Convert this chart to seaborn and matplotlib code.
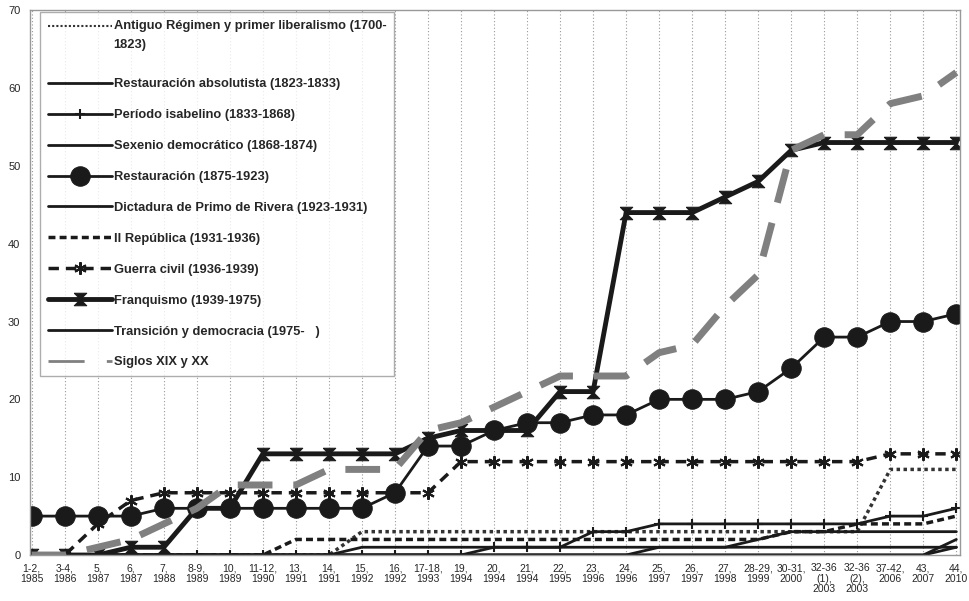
import numpy as np
import matplotlib
matplotlib.use("Agg")
import matplotlib.pyplot as plt
import seaborn as sns

sns.set_theme(style="white")
plt.rcParams['font.family'] = ['Liberation Sans', 'DejaVu Sans']

## categories (number, year)
categories = ["1-2,\n1985", "3-4,\n1986", "5,\n1987", "6,\n1987", "7,\n1988",
              "8-9,\n1989", "10,\n1989", "11-12,\n1990", "13,\n1991", "14,\n1991",
              "15,\n1992", "16,\n1992", "17-18,\n1993", "19,\n1994", "20,\n1994",
              "21,\n1994", "22,\n1995", "23,\n1996", "24,\n1996", "25,\n1997",
              "26,\n1997", "27,\n1998", "28-29,\n1999", "30-31,\n2000",
              "32-36\n(1),\n2003", "32-36\n(2),\n2003", "37-42,\n2006",
              "43,\n2007", "44,\n2010"]

## series values (cumulative counts)
antiguo_regimen = [0]*10 + [3]*16 + [11]*3
rest_absolutista = [0]*28 + [2]
periodo_isabelino = [0]*14 + [1]*3 + [3]*2 + [4]*7 + [5, 5, 6]
sexenio = [0]*10 + [1]*19
restauracion = [5, 5, 5, 5, 6, 6, 6, 6, 6, 6, 6, 8, 14, 14, 16, 17, 17, 18, 18,
                20, 20, 20, 21, 24, 28, 28, 30, 30, 31]
dictadura = [0]*19 + [1, 1, 1, 2] + [3]*6
ii_republica = [0]*8 + [2]*15 + [3]*2 + [4]*3 + [5]
guerra_civil = [0, 0, 4, 7] + [8]*9 + [12]*13 + [13]*3
franquismo = [0, 0, 0, 1, 1, 6, 6, 13, 13, 13, 13, 13, 15, 16, 16, 16, 21, 21,
              44, 44, 44, 46, 48, 52, 53, 53, 53, 53, 53]
transicion = [0]*28 + [1]
siglos_xix_xx = [0, 0, 1, 2, 4, 6, 9, 9, 9, 11, 11, 11, 16, 17, 19, 21, 23, 23,
                 23, 26, 27, 32, 36, 52, 54, 54, 58, 59, 62]

labels = ["Antiguo Régimen y primer liberalismo (1700-\n1823)",
          "Restauración absolutista (1823-1833)",
          "Período isabelino (1833-1868)",
          "Sexenio democrático (1868-1874)",
          "Restauración (1875-1923)",
          "Dictadura de Primo de Rivera (1923-1931)",
          "II República (1931-1936)",
          "Guerra civil (1936-1939)",
          "Franquismo (1939-1975)",
          "Transición y democracia (1975-   )",
          "Siglos XIX y XX"]

hourglass = [(-1, 1), (1, 1), (-1, -1), (1, -1), (-1, 1)]
k = "#1a1a1a"

styles = [
    dict(color="#333333", linestyle=(0, (1, 1)), linewidth=2.5),
    dict(color=k, linestyle="-", linewidth=2),
    dict(color=k, linestyle="-", linewidth=2, marker="+", markersize=7,
         markeredgewidth=1.5, markeredgecolor=k),
    dict(color=k, linestyle="-", linewidth=2),
    dict(color=k, linestyle="-", linewidth=2, marker="o", markersize=14,
         markeredgecolor=k),
    dict(color=k, linestyle="-", linewidth=2),
    dict(color=k, linestyle=(0, (2, 1.2)), linewidth=2.5),
    dict(color=k, linestyle=(0, (3, 2)), linewidth=2.5, marker=(6, 2, 0),
         markersize=9, markeredgewidth=1.5, markeredgecolor=k),
    dict(color=k, linestyle="-", linewidth=3.5, marker=hourglass, markersize=9,
         markeredgecolor=k),
    dict(color=k, linestyle="-", linewidth=2),
    dict(color="#808080", linestyle=(0, (5, 3)), linewidth=5),
]

series = [antiguo_regimen, rest_absolutista, periodo_isabelino, sexenio,
          restauracion, dictadura, ii_republica, guerra_civil, franquismo,
          transicion, siglos_xix_xx]

x = np.arange(len(categories))

fig = plt.figure(figsize=(9.7, 6.01), dpi=100)
ax = fig.add_axes([0.031, 0.0765, 0.959, 0.9065])

for vals, lab, st in zip(series, labels, styles):
    sns.lineplot(x=x, y=vals, ax=ax, label=lab, **st)

ax.set_xlim(-0.05, 28.12)
ax.set_ylim(0, 70)
ax.set_yticks(range(0, 71, 10))
ax.set_xticks(x)
ax.set_xticklabels(categories, fontsize=7.5, linespacing=1.05)
ax.tick_params(axis='y', labelsize=8, length=4, color="#888888", direction="out", pad=3)
ax.tick_params(axis='x', length=4, color="#888888", direction="out", pad=2)
ax.grid(axis='x', color="#999999", linestyle=(0, (1, 2)), linewidth=0.8)
ax.grid(axis='y', visible=False)
for sp in ax.spines.values():
    sp.set_color("#999999")
    sp.set_linewidth(1)

leg = ax.legend(loc="upper left", bbox_to_anchor=(0.0108, 0.996), frameon=True,
                fancybox=False, edgecolor="#999999", handlelength=5.0,
                handletextpad=0.1, labelspacing=1.46, borderpad=0.6,
                borderaxespad=0,
                prop=dict(family=['Liberation Sans', 'DejaVu Sans'], weight='bold', size=9.3))
leg.get_frame().set_linewidth(1)
leg.get_texts()[0].set_linespacing(1.75)

# first entry: extra room below the wrapped label, sample on its first line
item0 = leg._legend_handle_box.get_children()[0].get_children()[0]
hb0 = item0.get_children()[0]
extra = 14.0
hb0.ydescent += extra
hb0.height += extra

leg_lines = leg.get_lines()
yd = np.asarray(leg_lines[0].get_ydata(), dtype=float)
leg_lines[0].set_ydata(yd + 7.2)
leg_lines[0].set_linewidth(1.5)
leg_lines[-1].set_linewidth(2)
leg_lines[-1].set_linestyle((0, (13, 8)))

fig.savefig("out.png", dpi=100)
plt.close()
